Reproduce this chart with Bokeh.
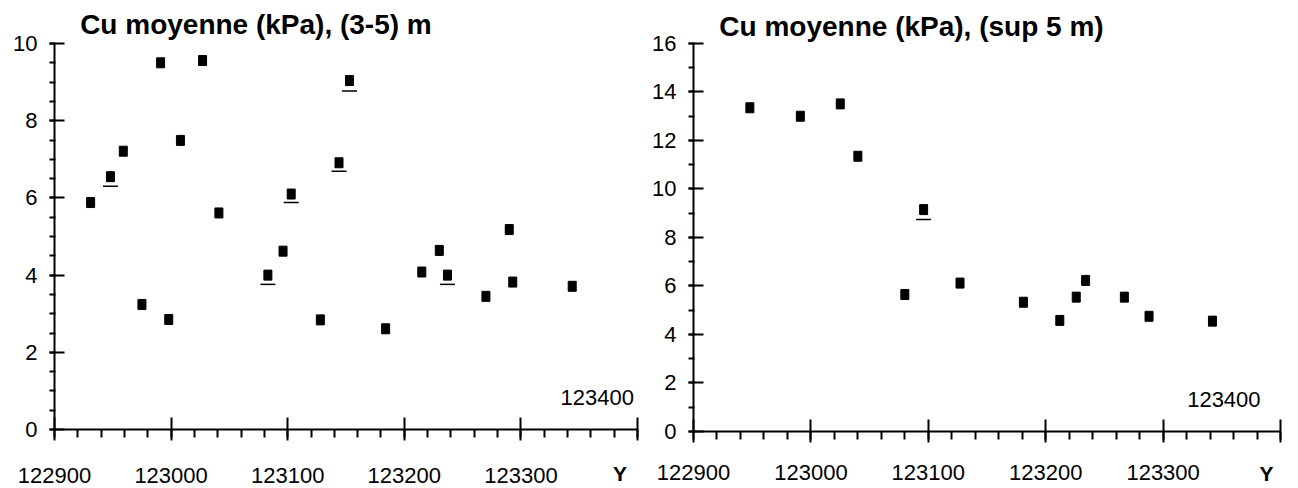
from bokeh.plotting import figure
from bokeh.models import Range1d, FixedTicker, Label
from bokeh.layouts import row
from bokeh.embed import file_html
from bokeh.resources import INLINE

# ---------------- data ----------------
# Panel 1: Cu moyenne (kPa), (3-5) m
y_pos_35 = [122931, 122948, 122959, 122975, 122991, 122998, 123008, 123027,
            123041, 123083, 123096, 123103, 123128, 123144, 123153, 123184,
            123215, 123230, 123237, 123270, 123290, 123293, 123344]
cu_35 = [5.88, 6.55, 7.21, 3.24, 9.50, 2.85, 7.49, 9.56,
         5.61, 4.00, 4.62, 6.10, 2.84, 6.91, 9.04, 2.61,
         4.08, 4.64, 4.00, 3.45, 5.18, 3.82, 3.71]
low_pos_35 = [122948, 123083, 123103, 123144, 123153, 123237]
low_cu_35 = [6.30, 3.76, 5.88, 6.69, 8.77, 3.76]

# Panel 2: Cu moyenne (kPa), (sup 5 m)
y_pos_sup5 = [122948, 122991, 123025, 123040, 123080, 123096, 123127,
              123181, 123212, 123226, 123234, 123267, 123288, 123342]
cu_sup5 = [13.35, 13.00, 13.51, 11.35, 5.65, 9.15, 6.12,
           5.33, 4.58, 5.54, 6.23, 5.54, 4.75, 4.55]
low_pos_sup5 = [123096]
low_cu_sup5 = [8.74]

x_ticks = [122900, 123000, 123100, 123200, 123300, 123400]
x_tick_labels = ["122900", "123000", "123100", "123200", "123300", ""]
x_minor = list(range(122900, 123401, 20))
y_ticks_35 = [0, 2, 4, 6, 8, 10]
y_minor_35 = [i * 0.5 for i in range(0, 21)]
y_ticks_sup5 = [0, 2, 4, 6, 8, 10, 12, 14, 16]
y_minor_sup5 = list(range(0, 17))

titles = ["Cu moyenne (kPa), (3-5) m", "Cu moyenne (kPa), (sup 5 m)"]
x_axis_name = "Y"
end_label = "123400"

FONT = "Liberation Sans"


def make_panel(xs, ys, lxs, lys, ymax, x_lo, x_hi, y_lo, y_hi, yticks,
               yminor, title, fw, x_standoff, title_y, end_x, end_y,
               yname_x, yname_y):
    p = figure(frame_width=fw, frame_height=488,
               x_range=Range1d(x_lo, x_hi), y_range=Range1d(y_lo, y_hi),
               output_backend="svg", toolbar_location=None, title=None,
               min_border_left=0, min_border_right=0,
               min_border_top=0, min_border_bottom=0)
    p.outline_line_color = None
    p.grid.visible = False
    p.background_fill_color = "white"
    p.border_fill_color = "white"

    xa = p.xaxis[0]
    xa.fixed_location = 0
    xa.bounds = (122900, 123400)
    xa.ticker = FixedTicker(ticks=x_ticks, minor_ticks=x_minor)
    xa.major_label_overrides = {t: s for t, s in zip(x_ticks, x_tick_labels)}
    xa.axis_line_width = 2
    xa.axis_line_color = "black"
    xa.major_tick_line_width = 2
    xa.major_tick_in = 12
    xa.major_tick_out = 11
    xa.minor_tick_line_width = 2
    xa.minor_tick_in = 0
    xa.minor_tick_out = 8
    xa.major_label_standoff = x_standoff
    xa.major_label_text_font = FONT
    xa.major_label_text_font_size = "22px"
    xa.major_label_text_color = "black"

    ya = p.yaxis[0]
    ya.fixed_location = 122900
    ya.bounds = (0, ymax)
    ya.ticker = FixedTicker(ticks=yticks, minor_ticks=yminor)
    ya.axis_line_width = 2
    ya.axis_line_color = "black"
    ya.major_tick_line_width = 2
    ya.major_tick_in = 10
    ya.major_tick_out = 5
    ya.minor_tick_line_width = 2
    ya.minor_tick_in = 1
    ya.minor_tick_out = 5
    ya.major_label_standoff = 12
    ya.major_label_text_font = FONT
    ya.major_label_text_font_size = "22px"
    ya.major_label_text_color = "black"

    p.rect(xs, ys, width=8, height=10, width_units="screen",
           height_units="screen", fill_color="black", line_color="black")
    p.scatter(lxs, lys, marker="dash", size=15, line_color="black",
              line_width=1.5)

    p.add_layout(Label(x=122922, y=title_y, text=title, text_font=FONT,
                       text_font_size="28px", text_font_style="bold",
                       text_color="black", text_baseline="middle",
                       text_align="left"))
    p.add_layout(Label(x=end_x, y=end_y, text=end_label, text_font=FONT,
                       text_font_size="22px", text_color="black",
                       text_baseline="middle", text_align="right"))
    p.add_layout(Label(x=yname_x, y=yname_y, text=x_axis_name, text_font=FONT,
                       text_font_size="21px", text_font_style="bold",
                       text_color="black", text_baseline="middle",
                       text_align="right"))
    return p


p1 = make_panel(y_pos_35, cu_35, low_pos_35, low_cu_35, 10,
                122853.7, 123401.7, -1.528, 11.114,
                y_ticks_35, y_minor_35, titles[0], 639, 27,
                10.50, 123397, 0.82, 123391, -1.13)
p2 = make_panel(y_pos_sup5, cu_sup5, low_pos_sup5, low_cu_sup5, 16,
                122854.0, 123413.6, -2.351, 17.773,
                y_ticks_sup5, y_minor_sup5, titles[1], 657, 23,
                16.72, 123383, 1.30, 123394, -1.72)

layout = row(p1, p2)
open("out.html", "w").write(file_html(layout, INLINE))
